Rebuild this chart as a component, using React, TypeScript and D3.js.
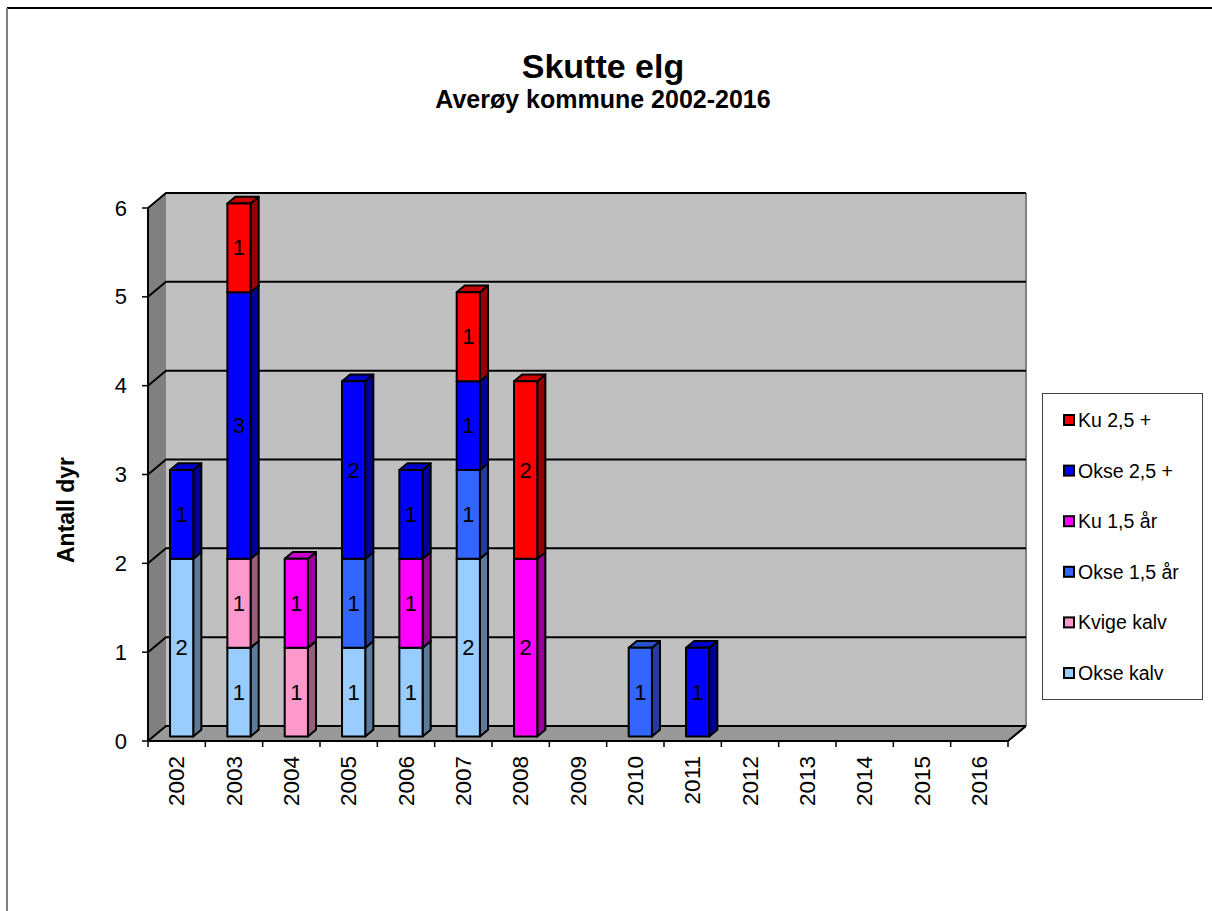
import React from "react";
import * as d3 from "d3";

const years = ["2002","2003","2004","2005","2006","2007","2008","2009","2010","2011","2012","2013","2014","2015","2016"];
const seriesNames = ["Okse kalv","Kvige kalv","Okse 1,5 år","Ku 1,5 år","Okse 2,5 +","Ku 2,5 +"];
const okseKalv  = [2,1,0,1,1,2,0,0,0,0,0,0,0,0,0];
const kvigeKalv = [0,1,1,0,0,0,0,0,0,0,0,0,0,0,0];
const okse15    = [0,0,0,1,0,1,0,0,1,0,0,0,0,0,0];
const ku15      = [0,0,1,0,1,0,2,0,0,0,0,0,0,0,0];
const okse25    = [1,3,0,2,1,1,0,0,0,1,0,0,0,0,0];
const ku25      = [0,1,0,0,0,1,2,0,0,0,0,0,0,0,0];
const seriesColors = ["#99CCFF","#FF99CC","#3366FF","#FF00FF","#0000FF","#FF0000"];
const yTicks = [0,1,2,3,4,5,6];

const FONT = "'Liberation Sans', Arial, sans-serif";

export default function App() {
  const seriesValues = [okseKalv, kvigeKalv, okse15, ku15, okse25, ku25];
  const x = d3.scaleBand<string>().domain(years).range([148, 1008]).paddingInner(0).paddingOuter(0);
  const y = d3.scaleLinear().domain([0, 6]).range([741, 208]);
  const DX = 18, DY = -15;
  const bw = x.bandwidth();
  const f0 = 0.3, fd = 0.45;
  const barW = bw * 0.405;
  const bdx = DX * fd, bdy = DY * fd;
  const xLeft = 148, xRight = 1008;

  const darker = (c: string, k: number) => {
    const col = d3.rgb(c);
    return d3.rgb(col.r * k, col.g * k, col.b * k).formatHex();
  };

  const bars: React.ReactNode[] = [];
  const labels: React.ReactNode[] = [];
  years.forEach((yr, i) => {
    let cum = 0;
    const bx = (x(yr) as number) + bw * 0.29 + f0 * DX;
    seriesValues.forEach((vals, s) => {
      const v = vals[i];
      if (!v) return;
      const y0 = y(cum) + f0 * DY;
      const y1 = y(cum + v) + f0 * DY;
      cum += v;
      const col = seriesColors[s];
      const front = `M${bx},${y0}L${bx + barW},${y0}L${bx + barW},${y1}L${bx},${y1}Z`;
      const side = `M${bx + barW},${y0}L${bx + barW + bdx},${y0 + bdy}L${bx + barW + bdx},${y1 + bdy}L${bx + barW},${y1}Z`;
      const top = `M${bx},${y1}L${bx + barW},${y1}L${bx + barW + bdx},${y1 + bdy}L${bx + bdx},${y1 + bdy}Z`;
      bars.push(
        <g key={`${yr}-${s}`}>
          <path d={side} fill={darker(col, 0.6)} stroke="#000" strokeWidth={2} strokeLinejoin="round" />
          <path d={top} fill={darker(col, 0.8)} stroke="#000" strokeWidth={2} strokeLinejoin="round" />
          <path d={front} fill={col} stroke="#000" strokeWidth={2} strokeLinejoin="round" />
        </g>
      );
      labels.push(
        <text key={`l-${yr}-${s}`} x={bx + barW / 2} y={(y0 + y1) / 2} textAnchor="middle" dominantBaseline="central"
          fontFamily={FONT} fontSize={22} fill="#000">{v}</text>
      );
    });
  });

  const legendItems = seriesNames.map((n, i) => ({ n, c: seriesColors[i] })).reverse();

  return (
    <svg width={1212} height={911} style={{ position: "absolute", left: 0, top: 0, background: "#fff" }}>
      <rect x={0} y={0} width={1212} height={911} fill="#fff" />
      <line x1={7} y1={8} x2={1212} y2={8} stroke="#000" strokeWidth={2} />
      <line x1={7} y1={8} x2={7} y2={911} stroke="#808080" strokeWidth={2} />

      <text x={603} y={78} textAnchor="middle" fontFamily={FONT} fontWeight="bold" fontSize={34}>Skutte elg</text>
      <text x={603} y={108} textAnchor="middle" fontFamily={FONT} fontWeight="bold" fontSize={25}>Averøy kommune 2002-2016</text>

      {/* side wall */}
      <path d={`M${xLeft},${y(0)}L${xLeft + DX},${y(0) + DY}L${xLeft + DX},${y(6) + DY}L${xLeft},${y(6)}Z`} fill="#808080" />
      {/* back wall */}
      <rect x={xLeft + DX} y={y(6) + DY} width={xRight - xLeft} height={y(0) - y(6)} fill="#C0C0C0" />
      {/* floor */}
      <path d={`M${xLeft},${y(0)}L${xLeft + DX},${y(0) + DY}L${xRight + DX},${y(0) + DY}L${xRight},${y(0)}Z`} fill="#999999" />
      {/* right edge of back wall */}
      <line x1={xRight + DX} y1={y(6) + DY} x2={xRight + DX} y2={y(0) + DY} stroke="#808080" strokeWidth={2} />

      {/* gridlines */}
      {yTicks.map(t => (
        <g key={`g${t}`}>
          <path d={`M${xLeft},${y(t)}L${xLeft + DX},${y(t) + DY}L${xRight + DX},${y(t) + DY}`} fill="none" stroke="#000" strokeWidth={2} />
        </g>
      ))}

      {/* axes */}
      <line x1={xLeft} y1={y(0)} x2={xLeft} y2={y(6)} stroke="#000" strokeWidth={2} />
      <path d={`M${xLeft},${y(0)}L${xRight},${y(0)}L${xRight + DX},${y(0) + DY}`} fill="none" stroke="#000" strokeWidth={2} />
      {yTicks.map(t => (
        <g key={`yt${t}`}>
          <line x1={xLeft - 6} y1={y(t)} x2={xLeft} y2={y(t)} stroke="#000" strokeWidth={1.5} />
          <text x={127} y={y(t)} textAnchor="end" dominantBaseline="central" fontFamily={FONT} fontSize={22}>{t}</text>
        </g>
      ))}
      {years.concat(["end"]).map((yr, i) => {
        const xx = xLeft + i * bw;
        return <line key={`xt${i}`} x1={xx} y1={y(0)} x2={xx} y2={y(0) + 6} stroke="#000" strokeWidth={1.5} />;
      })}
      {years.map(yr => {
        const cx = (x(yr) as number) + bw / 2;
        return (
          <text key={`xl${yr}`} transform={`translate(${cx},756) rotate(-90)`} textAnchor="end" dominantBaseline="central"
            fontFamily={FONT} fontSize={22.5}>{yr}</text>
        );
      })}

      {bars}
      {labels}

      <text transform="translate(74,510) rotate(-90)" textAnchor="middle" fontFamily={FONT} fontWeight="bold" fontSize={23}>Antall dyr</text>

      {/* legend */}
      <rect x={1042.5} y={393.5} width={160} height={306} fill="#fff" stroke="#404040" strokeWidth={1} />
      {legendItems.map((it, i) => {
        const cy = 420 + i * 50.6;
        return (
          <g key={`lg${i}`}>
            <rect x={1064} y={cy - 5} width={10} height={10} fill={it.c} stroke="#000" strokeWidth={2} />
            <text x={1078} y={cy} dominantBaseline="central" fontFamily={FONT} fontSize={19.5}>{it.n}</text>
          </g>
        );
      })}
    </svg>
  );
}
